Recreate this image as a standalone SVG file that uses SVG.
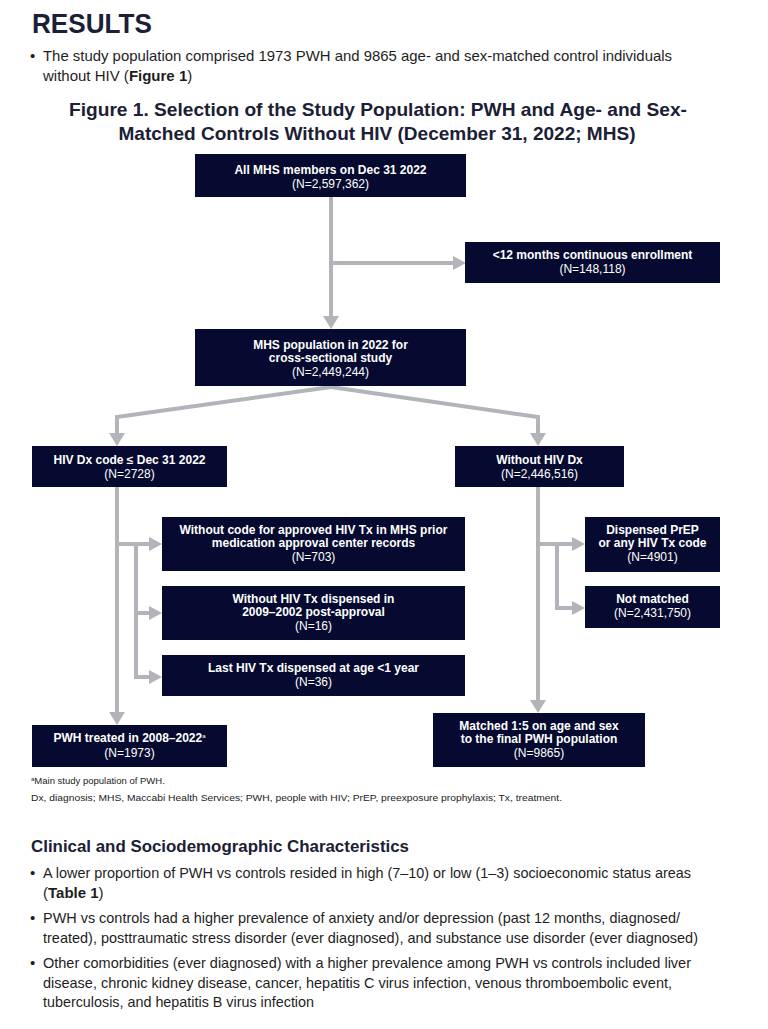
<svg xmlns="http://www.w3.org/2000/svg" width="768" height="1029" viewBox="0 0 768 1029">
<style>
  .bg{fill:#ffffff}
  .box{fill:#060a30}
  .bt{font-family:"Liberation Sans",Arial,sans-serif;font-size:12px;font-weight:bold;fill:#ffffff;text-anchor:middle}
  .bn{font-family:"Liberation Sans",Arial,sans-serif;font-size:12px;fill:#ffffff;text-anchor:middle}
  .con{fill:none;stroke:#b2b4b9;stroke-width:4;stroke-linejoin:miter}
  .ah{fill:#b2b4b9}
  .h1{font-family:"Liberation Sans",Arial,sans-serif;font-size:28px;font-weight:bold;fill:#1b2035}
  .body{font-family:"Liberation Sans",Arial,sans-serif;font-size:15px;fill:#1e1e1e}
  .bodyb{font-weight:bold}
  .ttl{font-family:"Liberation Sans",Arial,sans-serif;font-size:18.5px;font-weight:bold;fill:#1b2035;text-anchor:middle}
  .h2{font-family:"Liberation Sans",Arial,sans-serif;font-size:17px;font-weight:bold;fill:#1b2035}
  .fn{font-family:"Liberation Sans",Arial,sans-serif;font-size:9.5px;fill:#222222}
</style>
<rect class="bg" x="0" y="0" width="768" height="1029"/>

<g id="header">
  <text class="h1" x="32" y="33" textLength="120" lengthAdjust="spacingAndGlyphs">RESULTS</text>
  <text class="body" x="30" y="61">•</text>
  <text class="body" x="43" y="61" textLength="629" lengthAdjust="spacingAndGlyphs">The study population comprised 1973 PWH and 9865 age- and sex-matched control individuals</text>
  <text class="body" x="43" y="81">without HIV (<tspan class="bodyb">Figure 1</tspan>)</text>
  <text class="ttl" x="378" y="116" textLength="618" lengthAdjust="spacingAndGlyphs">Figure 1. Selection of the Study Population: PWH and Age- and Sex-</text>
  <text class="ttl" x="377" y="140" textLength="517" lengthAdjust="spacingAndGlyphs">Matched Controls Without HIV (December 31, 2022; MHS)</text>
</g>

<g id="connectors">
  <line class="con" x1="331" y1="197" x2="331" y2="317"/>
  <polygon class="ah" points="323,316 339,316 331,329"/>
  <line class="con" x1="331" y1="263" x2="454" y2="263"/>
  <polygon class="ah" points="453,256 453,270 466,263"/>

  <polyline class="con" points="331,387 117,417 117,434"/>
  <polygon class="ah" points="109,433 125,433 117,446"/>
  <polyline class="con" points="331,387 538,417 538,434"/>
  <polygon class="ah" points="530,433 546,433 538,446"/>

  <line class="con" x1="117" y1="487" x2="117" y2="713"/>
  <polygon class="ah" points="109,712 125,712 117,725"/>
  <line class="con" x1="117" y1="544" x2="150" y2="544"/>
  <polygon class="ah" points="149,537 149,551 162,544"/>
  <polyline class="con" points="136,544 136,677 150,677"/>
  <line class="con" x1="136" y1="613" x2="150" y2="613"/>
  <polygon class="ah" points="149,606 149,620 162,613"/>
  <polygon class="ah" points="149,670 149,684 162,677"/>

  <line class="con" x1="538" y1="487" x2="538" y2="701"/>
  <polygon class="ah" points="530,700 546,700 538,713"/>
  <line class="con" x1="538" y1="544" x2="573" y2="544"/>
  <polygon class="ah" points="572,537 572,551 585,544"/>
  <polyline class="con" points="557,544 557,608 573,608"/>
  <polygon class="ah" points="572,601 572,615 585,608"/>
</g>

<g id="n-all">
  <rect class="box" x="195" y="154" width="271" height="43"/>
  <text class="bt" x="330.5" y="174">All MHS members on Dec 31 2022</text>
  <text class="bn" x="330.5" y="188">(N=2,597,362)</text>
</g>
<g id="n-enroll">
  <rect class="box" x="465" y="242" width="255" height="41"/>
  <text class="bt" x="592.5" y="259">&lt;12 months continuous enrollment</text>
  <text class="bn" x="592.5" y="273">(N=148,118)</text>
</g>
<g id="n-pop">
  <rect class="box" x="195" y="329" width="271" height="57"/>
  <text class="bt" x="330.5" y="349">MHS population in 2022 for</text>
  <text class="bt" x="330.5" y="362">cross-sectional study</text>
  <text class="bn" x="330.5" y="376">(N=2,449,244)</text>
</g>
<g id="n-hivdx">
  <rect class="box" x="32" y="446" width="195" height="41"/>
  <text class="bt" x="129.5" y="464">HIV Dx code ≤ Dec 31 2022</text>
  <text class="bn" x="129.5" y="478">(N=2728)</text>
</g>
<g id="n-nohivdx">
  <rect class="box" x="455" y="446" width="169" height="41"/>
  <text class="bt" x="539.5" y="464">Without HIV Dx</text>
  <text class="bn" x="539.5" y="478">(N=2,446,516)</text>
</g>
<g id="n-nocode">
  <rect class="box" x="162" y="517" width="303" height="54"/>
  <text class="bt" x="313.5" y="534">Without code for approved HIV Tx in MHS prior</text>
  <text class="bt" x="313.5" y="547">medication approval center records</text>
  <text class="bn" x="313.5" y="561">(N=703)</text>
</g>
<g id="n-notx">
  <rect class="box" x="162" y="586" width="303" height="54"/>
  <text class="bt" x="313.5" y="603">Without HIV Tx dispensed in</text>
  <text class="bt" x="313.5" y="616">2009–2002 post-approval</text>
  <text class="bn" x="313.5" y="630">(N=16)</text>
</g>
<g id="n-lastx">
  <rect class="box" x="162" y="655" width="303" height="41"/>
  <text class="bt" x="313.5" y="672">Last HIV Tx dispensed at age &lt;1 year</text>
  <text class="bn" x="313.5" y="686">(N=36)</text>
</g>
<g id="n-prep">
  <rect class="box" x="585" y="517" width="135" height="55"/>
  <text class="bt" x="652.5" y="534">Dispensed PrEP</text>
  <text class="bt" x="652.5" y="547">or any HIV Tx code</text>
  <text class="bn" x="652.5" y="561">(N=4901)</text>
</g>
<g id="n-notmatched">
  <rect class="box" x="585" y="586" width="135" height="42"/>
  <text class="bt" x="652.5" y="603">Not matched</text>
  <text class="bn" x="652.5" y="617">(N=2,431,750)</text>
</g>
<g id="n-pwh">
  <rect class="box" x="32" y="725" width="195" height="42"/>
  <text class="bt" x="129.5" y="742">PWH treated in 2008–2022<tspan font-size="6" font-weight="normal" dy="-4">a</tspan></text>
  <text class="bn" x="129.5" y="757">(N=1973)</text>
</g>
<g id="n-matched">
  <rect class="box" x="433" y="713" width="212" height="54"/>
  <text class="bt" x="539" y="730">Matched 1:5 on age and sex</text>
  <text class="bt" x="539" y="743">to the final PWH population</text>
  <text class="bn" x="539" y="757">(N=9865)</text>
</g>

<g id="footnotes">
  <text class="fn" x="31" y="784"><tspan font-size="6" dy="-3">a</tspan><tspan dy="3">Main study population of PWH.</tspan></text>
  <text class="fn" x="31" y="801" textLength="531" lengthAdjust="spacingAndGlyphs">Dx, diagnosis; MHS, Maccabi Health Services; PWH, people with HIV; PrEP, preexposure prophylaxis; Tx, treatment.</text>
</g>

<g id="clinical">
  <text class="h2" x="31" y="852" textLength="378" lengthAdjust="spacingAndGlyphs">Clinical and Sociodemographic Characteristics</text>
  <text class="body" x="30" y="878">•</text>
  <text class="body" x="43" y="878" textLength="648" lengthAdjust="spacingAndGlyphs">A lower proportion of PWH vs controls resided in high (7–10) or low (1–3) socioeconomic status areas</text>
  <text class="body" x="43" y="898">(<tspan class="bodyb">Table 1</tspan>)</text>
  <text class="body" x="30" y="923">•</text>
  <text class="body" x="43" y="923" textLength="637" lengthAdjust="spacingAndGlyphs">PWH vs controls had a higher prevalence of anxiety and/or depression (past 12 months, diagnosed/</text>
  <text class="body" x="43" y="943" textLength="655" lengthAdjust="spacingAndGlyphs">treated), posttraumatic stress disorder (ever diagnosed), and substance use disorder (ever diagnosed)</text>
  <text class="body" x="30" y="968">•</text>
  <text class="body" x="43" y="968" textLength="648" lengthAdjust="spacingAndGlyphs">Other comorbidities (ever diagnosed) with a higher prevalence among PWH vs controls included liver</text>
  <text class="body" x="43" y="988" textLength="629" lengthAdjust="spacingAndGlyphs">disease, chronic kidney disease, cancer, hepatitis C virus infection, venous thromboembolic event,</text>
  <text class="body" x="43" y="1007" textLength="271" lengthAdjust="spacingAndGlyphs">tuberculosis, and hepatitis B virus infection</text>
</g>
</svg>
